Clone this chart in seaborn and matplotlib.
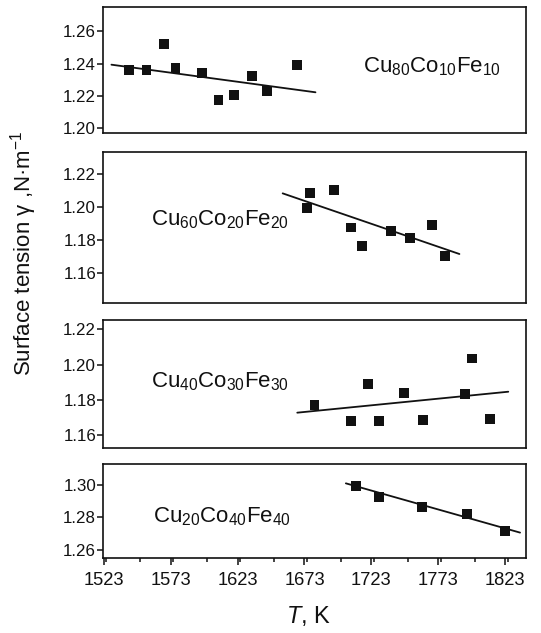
import numpy as np
import pandas as pd
import matplotlib
matplotlib.use("Agg")
import matplotlib.pyplot as plt
from matplotlib.ticker import MultipleLocator
import seaborn as sns

### values (T in K, surface tension in N/m)

# Cu80Co10Fe10
t1 = [1541.7, 1555.0, 1568.0, 1576.7, 1596.4, 1608.8, 1620.3, 1633.7, 1644.9, 1667.3]
g1 = [1.236, 1.236, 1.252, 1.237, 1.234, 1.2176, 1.2203, 1.2325, 1.2228, 1.239]
fit1_t = [1528.8, 1681.2]
fit1_g = [1.2393, 1.2222]

# Cu60Co20Fe20
t2 = [1674.8, 1677.3, 1695.2, 1707.9, 1715.8, 1737.7, 1751.9, 1768.5, 1778.0]
g2 = [1.1993, 1.2088, 1.2104, 1.1876, 1.1763, 1.1854, 1.1810, 1.1889, 1.1702]
fit2_t = [1656.7, 1788.7]
fit2_g = [1.2084, 1.1714]

# Cu40Co30Fe30
t3 = [1680.5, 1707.6, 1720.3, 1728.7, 1747.4, 1761.3, 1793.1, 1797.9, 1811.6]
g3 = [1.1769, 1.1680, 1.1890, 1.1682, 1.1837, 1.1686, 1.1831, 1.2035, 1.1690]
fit3_t = [1667.6, 1825.2]
fit3_g = [1.1727, 1.1846]

# Cu20Co40Fe40
t4 = [1711.3, 1728.7, 1761.0, 1794.6, 1822.8]
g4 = [1.2994, 1.2924, 1.2867, 1.2819, 1.2719]
fit4_t = [1703.9, 1834.0]
fit4_g = [1.3010, 1.2707]

labels = [r'Cu$_{80}$Co$_{10}$Fe$_{10}$', r'Cu$_{60}$Co$_{20}$Fe$_{20}$',
          r'Cu$_{40}$Co$_{30}$Fe$_{30}$', r'Cu$_{20}$Co$_{40}$Fe$_{40}$']
yticks = [[1.20, 1.22, 1.24, 1.26], [1.16, 1.18, 1.20, 1.22],
          [1.16, 1.18, 1.20, 1.22], [1.26, 1.28, 1.30]]
ylims = [(1.197, 1.275), (1.1413, 1.2338), (1.1528, 1.2253), (1.2549, 1.3129)]
xticks = [1523, 1573, 1623, 1673, 1723, 1773, 1823]

sns.set_style("ticks")
plt.rcParams['font.family'] = ['Liberation Sans', 'DejaVu Sans']
plt.rcParams['mathtext.fontset'] = 'custom'
plt.rcParams['mathtext.rm'] = 'Liberation Sans'
plt.rcParams['mathtext.it'] = 'Liberation Sans:italic'
plt.rcParams['mathtext.sf'] = 'Liberation Sans'

fig = plt.figure(figsize=(5.41, 6.33), dpi=100)

# panel boxes in figure fraction (left, bottom, width, height)
boxes = [(0.1904, 0.7899, 0.782, 0.199),
         (0.1904, 0.5208, 0.782, 0.2395),
         (0.1904, 0.2927, 0.782, 0.2017),
         (0.1904, 0.1180, 0.782, 0.1490)]
text_pos = [(0.615, 0.53), (0.113, 0.55), (0.113, 0.52), (0.119, 0.44)]

series = [(t1, g1, fit1_t, fit1_g), (t2, g2, fit2_t, fit2_g),
          (t3, g3, fit3_t, fit3_g), (t4, g4, fit4_t, fit4_g)]

for i, (t, g, ft, fg) in enumerate(series):
    ax = fig.add_axes(boxes[i])
    df = pd.DataFrame({'T': t, 'g': g})
    fit = pd.DataFrame({'T': ft, 'g': fg})
    sns.lineplot(data=fit, x='T', y='g', color='#111111', lw=1.3, ax=ax)
    sns.scatterplot(data=df, x='T', y='g', marker='s', s=50, color='#111111',
                    edgecolor='none', ax=ax, zorder=3)
    ax.set_xlim(1522.5, 1838.5)
    ax.set_ylim(*ylims[i])
    ax.set_yticks(yticks[i])
    ax.set_yticklabels(['%.2f' % v for v in yticks[i]])
    ax.set_xlabel('')
    ax.set_ylabel('')
    for sp in ax.spines.values():
        sp.set_linewidth(1.2)
        sp.set_color('#111111')
    ax.tick_params(axis='y', direction='out', length=4.5, width=1.1,
                   labelsize=12.2, pad=0.5, colors='#111111')
    if i < 3:
        ax.set_xticks([])
    else:
        ax.set_xticks(xticks)
        ax.xaxis.set_minor_locator(MultipleLocator(25))
        ax.tick_params(axis='x', which='major', direction='out', length=5,
                       width=1.1, labelsize=13.2, pad=5, colors='#111111')
        ax.tick_params(axis='x', which='minor', direction='out', length=3,
                       width=1.1, colors='#111111')
    ax.text(text_pos[i][0], text_pos[i][1], labels[i], transform=ax.transAxes,
            fontsize=16, va='center', ha='left', color='#111111')

fig.text(0.043, 0.600, 'Surface tension γ ,N·m$^{-1}$', rotation=90,
         fontsize=16, va='center', ha='center', color='#111111')
fig.text(0.571, 0.027, r'$T$, K', fontsize=17, va='center', ha='center',
         color='#111111')

fig.savefig('out.png', dpi=100)
